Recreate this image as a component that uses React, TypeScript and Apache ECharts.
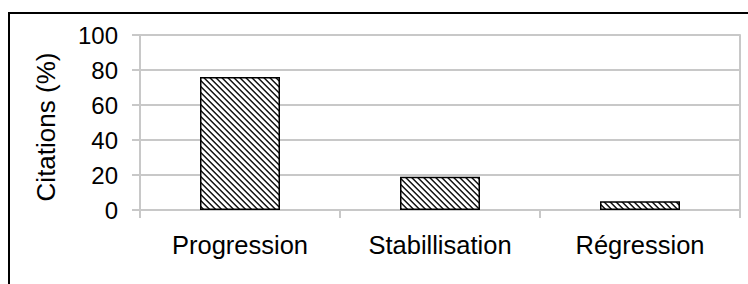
import React, { useEffect, useRef } from "react";
import * as echarts from "echarts";

const categories = ["Progression", "Stabillisation", "Régression"];
const citations = [76, 19, 5];
const yTitle = "Citations (%)";

function makeHatch(): HTMLCanvasElement {
  const n = 6;
  const c = document.createElement("canvas");
  c.width = n;
  c.height = n;
  const ctx = c.getContext("2d")!;
  ctx.fillStyle = "#ffffff";
  ctx.fillRect(0, 0, n, n);
  const shades: Record<number, string> = { 0: "#111111", 1: "#555555", 5: "#aaaaaa" };
  for (let y = 0; y < n; y++) {
    for (let x = 0; x < n; x++) {
      const d = (((x - y) % n) + n) % n;
      if (shades[d]) {
        ctx.fillStyle = shades[d];
        ctx.fillRect(x, y, 1, 1);
      }
    }
  }
  return c;
}

export default function App() {
  const ref = useRef<HTMLDivElement>(null);
  useEffect(() => {
    if (!ref.current) return;
    const chart = echarts.init(ref.current, undefined, { renderer: "svg" });
    const hatch = makeHatch();
    const font = "'Liberation Sans', Arial, sans-serif";
    const gridColor = "#c8c8c8";
    chart.setOption({
      animation: false,
      backgroundColor: "#ffffff",
      textStyle: { fontFamily: font },
      grid: { left: 140, right: 8, top: 35, bottom: 74 },
      graphic: [
        {
          type: "rect",
          shape: { x: 9, y: 13, width: 900, height: 500 },
          style: { fill: "none", stroke: "#000", lineWidth: 2 },
          silent: true,
        },
        {
          type: "text",
          x: 46,
          y: 127,
          rotation: Math.PI / 2,
          style: {
            text: yTitle,
            fontSize: 26,
            fontFamily: font,
            fill: "#000",
            align: "center",
            verticalAlign: "middle",
          },
        },
      ],
      xAxis: {
        type: "category",
        data: categories,
        boundaryGap: true,
        axisLine: { show: true, lineStyle: { color: gridColor, width: 2 } },
        axisTick: { show: true, length: 8, lineStyle: { color: gridColor, width: 2 } },
        axisLabel: { color: "#000", fontSize: 25.5, fontFamily: font, margin: 22 },
        splitLine: { show: false },
      },
      yAxis: [
        {
          type: "value",
          min: 0,
          max: 100,
          interval: 20,
          axisLine: { show: true, lineStyle: { color: gridColor, width: 2 } },
          axisTick: { show: true, length: 8, lineStyle: { color: gridColor, width: 2 } },
          axisLabel: { color: "#000", fontSize: 24, fontFamily: font, margin: 22 },
          splitLine: { show: true, lineStyle: { color: gridColor, width: 2 } },
        },
        {
          type: "value",
          position: "right",
          min: 0,
          max: 100,
          interval: 20,
          axisLine: { show: true, lineStyle: { color: gridColor, width: 2 } },
          axisTick: { show: false },
          axisLabel: { show: false },
          splitLine: { show: false },
        },
      ],
      series: [
        {
          type: "bar",
          data: citations,
          barWidth: "40%",
          itemStyle: {
            color: { image: hatch, repeat: "repeat", imageWidth: 6, imageHeight: 6 },
            borderColor: "#000",
            borderWidth: 1.5,
          },
        },
      ],
    });
    return () => chart.dispose();
  }, []);
  return (
    <div
      ref={ref}
      style={{ position: "fixed", left: 0, top: 0, width: 748, height: 284 }}
    />
  );
}
